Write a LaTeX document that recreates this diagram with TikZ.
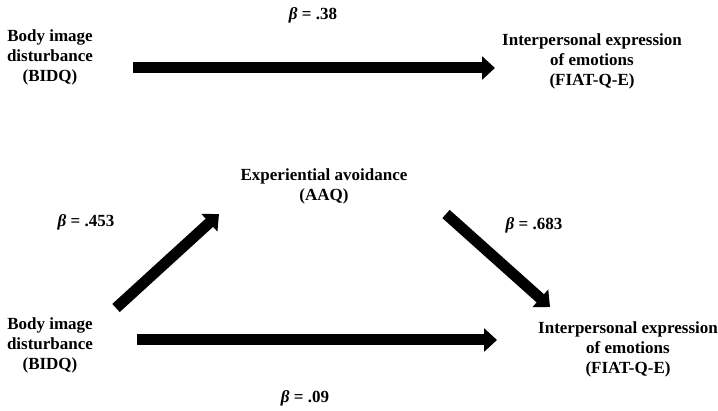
\documentclass[tikz,border=0pt]{standalone}
\usepackage{fontspec}
\setmainfont{Liberation Serif}
\usetikzlibrary{arrows.meta}
\begin{document}
\begin{tikzpicture}[x=1pt,y=-1pt,
  var/.style={align=center, font=\fontsize{17}{20}\selectfont\bfseries, inner sep=0pt},
  coef/.style={font=\fontsize{17}{20}\selectfont\bfseries, inner sep=0pt},
  fatarrow/.style={line width=11pt, -{Triangle[length=13pt,width=23pt]}}]
\useasboundingbox (0,0) rectangle (718,411);
% total effect
\node [var] (bidq1) at (50,57) {Body image\\disturbance\\(BIDQ)};
\node [var] (fiat1) at (592,61) {Interpersonal expression\\of emotions\\(FIAT-Q-E)};
\node [coef] (b1) at (313,15) {\textit{β} = .38};
\draw [fatarrow] ([shift={(83,11)}]bidq1.center) -- ([shift={(-97,7)}]fiat1.center);
% mediation model
\node [var] (aaq) at (324,186) {Experiential avoidance\\(AAQ)};
\node [var] (bidq2) at (50,345) {Body image\\disturbance\\(BIDQ)};
\node [var] (fiat2) at (628,349) {Interpersonal expression\\of emotions\\(FIAT-Q-E)};
\node [coef] (b2) at (86,222) {\textit{β} = .453};
\node [coef] (b3) at (534,225) {\textit{β} = .683};
\node [coef] (b4) at (305,398) {\textit{β} = .09};
\draw [fatarrow] ([shift={(66,-37)}]bidq2.center) -- ([shift={(-105,28)}]aaq.center);
\draw [fatarrow] ([shift={(122,28)}]aaq.center) -- ([shift={(-78,-42)}]fiat2.center);
\draw [fatarrow] ([shift={(87,-5)}]bidq2.center) -- ([shift={(-131,-9)}]fiat2.center);
\end{tikzpicture}
\end{document}
